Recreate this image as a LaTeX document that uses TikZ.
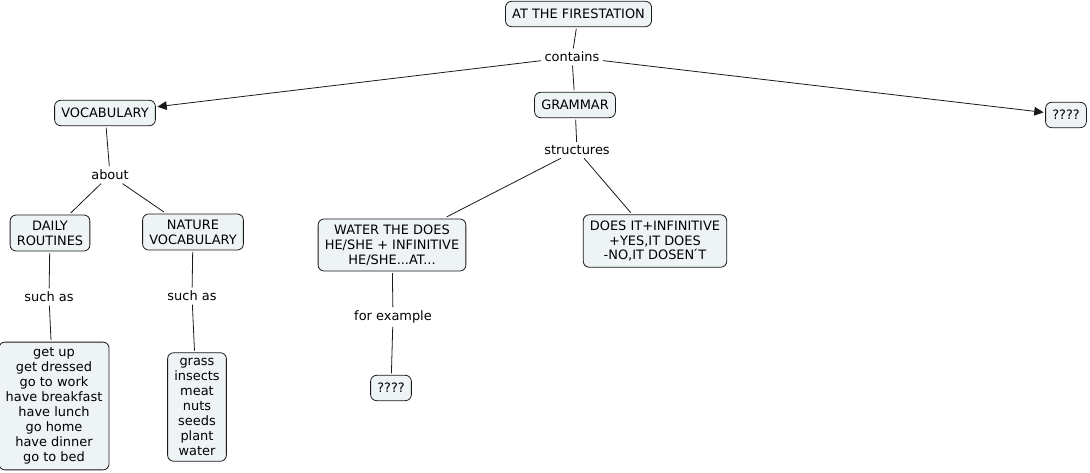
\documentclass[tikz,border=0pt]{standalone}
\usepackage{fontspec}
\setmainfont{DejaVu Sans}
\usepackage{tikz}
\usetikzlibrary{
    arrows.meta
}
\definecolor{mapFill}{RGB}{238, 243, 245}
\definecolor{mapLine}{RGB}{25, 25, 25}

\begin{document}
\begin{tikzpicture}[x=0.75pt, y=-0.75pt, >={Triangle[length=7pt, width=6.5pt]},
        conceptBox/.style={draw=mapLine, fill=mapFill, rounded corners=4.5pt, line width=0.6pt,
            align=center, inner xsep=5pt, inner ysep=4.3pt, outer sep=1.5pt, minimum height=19pt,
            font=\fontsize{9.7}{11.2}\selectfont},
        linkText/.style={inner sep=2.5pt, align=center, font=\fontsize{9.7}{11.2}\selectfont},
        mapLink/.style={draw=mapLine, line width=0.6pt}]
        \useasboundingbox (0,0) rectangle (1090,473);
        % concepts
        \node[conceptBox] (fire) at (578.5,14) {AT THE FIRESTATION};
        \node[conceptBox] (voc) at (105,113) {VOCABULARY};
        \node[conceptBox] (gram) at (575,105) {GRAMMAR};
        \node[conceptBox] (open) at (1066,115) {????};
        \node[conceptBox] (daily) at (50,233) {DAILY\\ROUTINES};
        \node[conceptBox] (nature) at (193,232) {NATURE\\VOCABULARY};
        \node[conceptBox] (routines) at (54,406) {get up\\get dressed\\go to work\\have breakfast\\have lunch\\go home\\have dinner\\go to bed};
        \node[conceptBox] (food) at (197,407) {grass\\insects\\meat\\nuts\\seeds\\plant\\water};
        \node[conceptBox] (water) at (392,245) {WATER THE DOES\\HE/SHE + INFINITIVE\\HE/SHE...AT...};
        \node[conceptBox] (does) at (655,241) {DOES IT+INFINITIVE\\+YES,IT DOES\\-NO,IT DOSEN\'{}T};
        \node[conceptBox] (example) at (391,388) {????};
        
        % linking words
        \node[linkText] (contains) at (572,57) {contains};
        \node[linkText] (about) at (110,175) {about};
        \node[linkText] (suchA) at (49,297) {such as};
        \node[linkText] (suchB) at (192,296) {such as};
        \node[linkText] (struct) at (577,150) {structures};
        \node[linkText] (forex) at (393,317) {for example};
        
        \draw[mapLink] (fire) -- (contains);
        \draw[mapLink, ->] (contains) -- (voc);
        \draw[mapLink] (contains) -- (gram);
        \draw[mapLink, ->] (contains) -- (open);
        
        \draw[mapLink] (voc) -- (about);
        \draw[mapLink] (about) -- (daily);
        \draw[mapLink] (about) -- (nature);
        \draw[mapLink] (daily) -- (suchA);
        \draw[mapLink] (suchA) -- (routines);
        \draw[mapLink] (nature) -- (suchB);
        \draw[mapLink] (suchB) -- (food);
        
        \draw[mapLink] (gram) -- (struct);
        \draw[mapLink] (struct) -- (water);
        \draw[mapLink] (struct) -- (does);
        \draw[mapLink] (water) -- (forex);
        \draw[mapLink] (forex) -- (example);
    \end{tikzpicture}
\end{document}
